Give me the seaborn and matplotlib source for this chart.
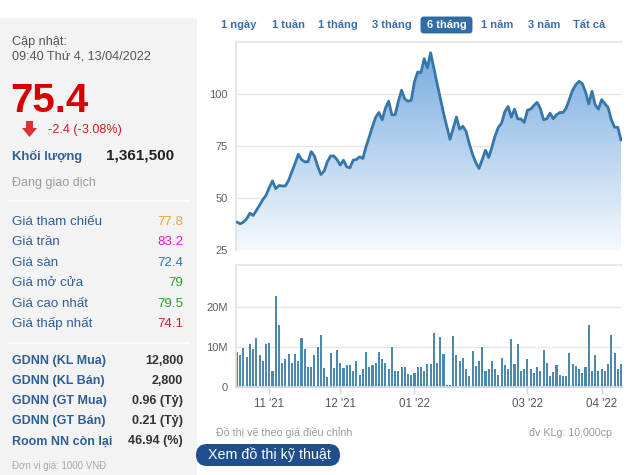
import numpy as np
import pandas as pd
import matplotlib
matplotlib.use('Agg')
import matplotlib.pyplot as plt
import seaborn as sns
from matplotlib.patches import Rectangle, FancyBboxPatch, Polygon
from matplotlib.colors import LinearSegmentedColormap
from matplotlib.transforms import IdentityTransform

# ---------------- data ----------------
price = [38.4, 37.6, 38.4, 40.0, 42.7, 41.6, 44.0, 46.5, 49.2, 51.3,
         55.0, 58.2, 54.5, 56.0, 55.8, 55.8, 58.5, 62.6, 66.6, 71.0,
         68.5, 67.4, 67.4, 72.3, 70.2, 65.3, 61.3, 62.9, 67.4, 70.2,
         70.2, 68.5, 65.8, 68.2, 65.0, 64.5, 68.2, 68.5, 69.8, 69.0,
         74.7, 79.5, 84.4, 88.9, 91.1, 87.6, 93.2, 96.5, 90.0, 90.0,
         96.5, 101.8, 97.6, 96.5, 97.0, 106.0, 110.6, 110.2, 117.0, 112.6,
         119.8, 112.5, 105.0, 98.0, 90.8, 84.5, 78.2, 83.5, 88.9, 83.1,
         84.5, 82.0, 76.0, 71.0, 67.0, 64.2, 68.5, 73.0, 69.5, 74.5,
         80.0, 84.0, 86.0, 91.5, 94.0, 88.9, 92.7, 88.0, 88.0, 86.3,
         92.2, 92.7, 94.5, 96.0, 93.0, 87.6, 88.1, 90.8, 88.1, 90.0,
         91.1, 91.1, 93.2, 97.5, 101.8, 104.5, 106.1, 105.0, 101.0, 95.2,
         101.3, 94.8, 92.7, 97.3, 95.3, 93.5, 87.6, 84.0, 84.0, 77.8]

volume_m = [8.8, 8.1, 9.8, 7.6, 10.7, 9.5, 12.2, 7.9, 6.6, 10.7,
            11.0, 4.0, 22.7, 15.5, 6.0, 7.0, 8.3, 6.0, 8.3, 6.4,
            12.2, 9.5, 5.0, 5.0, 8.1, 10.1, 13.1, 4.7, 2.5, 8.5,
            4.7, 9.3, 6.0, 4.7, 5.4, 5.5, 3.9, 6.4, 3.1, 4.4,
            8.7, 5.0, 5.4, 6.0, 8.7, 7.0, 6.0, 4.5, 9.9, 3.9,
            3.9, 4.9, 4.9, 3.2, 3.1, 3.4, 4.9, 4.9, 4.1, 5.8,
            5.7, 13.6, 6.0, 12.6, 8.3, 0.6, 0.6, 12.8, 8.1, 6.4,
            7.3, 4.4, 2.8, 9.1, 5.2, 6.6, 9.9, 3.9, 4.6, 6.4,
            4.6, 3.1, 7.3, 5.4, 4.6, 11.9, 5.8, 10.7, 3.9, 4.4,
            7.0, 4.4, 3.4, 5.0, 4.1, 9.3, 6.0, 2.8, 3.7, 5.4,
            2.9, 2.8, 2.8, 8.5, 5.8, 5.2, 4.4, 3.5, 4.9, 15.5,
            4.1, 8.1, 3.9, 4.6, 4.1, 5.8, 13.0, 8.5, 4.6, 5.8]

month_tick_idx = [10, 32, 55, 90, 113]
month_tick_labels = ["11 '21", "12 '21", "01 '22", "03 '22", "04 '22"]
price_ticks = [25, 50, 75, 100]
vol_ticks = [0, 10, 20]
vol_tick_labels = ['0', '10M', '20M']

range_buttons = ['1 ngày', '1 tuần', '1 tháng', '3 tháng', '6 tháng', '1 năm', '3 năm', 'Tất cả']
selected_range = '6 tháng'

update_title = 'Cập nhật:'
update_time = '09:40 Thứ 4, 13/04/2022'
last_price = '75.4'
change_text = '-2.4 (-3.08%)'
volume_label = 'Khối lượng'
volume_value = '1,361,500'
status_text = 'Đang giao dịch'

info_labels = ['Giá tham chiếu', 'Giá trần', 'Giá sàn', 'Giá mở cửa', 'Giá cao nhất', 'Giá thấp nhất']
info_values = ['77.8', '83.2', '72.4', '79', '79.5', '74.1']
info_colors = ['#f2a33a', '#e21bd6', '#2a78b0', '#2aa02a', '#2aa02a', '#c8262c']

foreign_labels = ['GDNN (KL Mua)', 'GDNN (KL Bán)', 'GDNN (GT Mua)', 'GDNN (GT Bán)', 'Room NN còn lại']
foreign_values = ['12,800', '2,800', '0.96 (Tỷ)', '0.21 (Tỷ)', '46.94 (%)']

unit_note = 'Đơn vị giá: 1000 VNĐ'
adjusted_note = 'Đồ thị vẽ theo giá điều chỉnh'
vol_unit_note = 'đv KLg: 10,000cp'
tech_button = 'Xem đồ thị kỹ thuật'

# ---------------- style ----------------
sns.set_theme(style='white')
plt.rcParams['font.family'] = ['Liberation Sans', 'DejaVu Sans']

W, H = 630, 475


def fx(x):
    return x / W


def fy(y):
    return 1 - y / H


fig = plt.figure(figsize=(6.3, 4.75), dpi=100)
fig.patch.set_facecolor('white')

# left info panel background
fig.add_artist(Rectangle((0, 0), fx(197), fy(18), transform=fig.transFigure,
                         facecolor='#f3f3f3', edgecolor='none', zorder=0))
for ysep in (201, 343):
    fig.add_artist(plt.Line2D([fx(8), fx(190)], [fy(ysep), fy(ysep)], transform=fig.transFigure,
                              color='white', linewidth=1.2, zorder=1))

blue_lbl = '#2f5f95'
fig.text(fx(12), fy(45), update_title, fontsize=9.1, color='#555555', va='baseline')
fig.text(fx(12), fy(59.5), update_time, fontsize=9.1, color='#555555', va='baseline')
fig.text(fx(10), fy(112), last_price, fontsize=29, color='#d40000', fontweight='bold', va='baseline')

# red down arrow
arrow_px = [(26, 121), (33, 121), (33, 128), (37, 128), (29.5, 137), (22, 128), (26, 128)]
fig.add_artist(Polygon([(fx(a), fy(b)) for a, b in arrow_px], closed=True, transform=fig.transFigure,
                       facecolor='#dc3232', edgecolor='none'))
fig.text(fx(48), fy(133), change_text, fontsize=9.1, color='#cc1f1f', va='baseline')

fig.text(fx(12), fy(160), volume_label, fontsize=9.4, color=blue_lbl, fontweight='bold', va='baseline')
fig.text(fx(174), fy(159), volume_value, fontsize=11, color='#222222', fontweight='bold',
         va='baseline', ha='right')
fig.text(fx(12), fy(186), status_text, fontsize=9.0, color='#9a9a9a', va='baseline')

for i, (lab, val, col) in enumerate(zip(info_labels, info_values, info_colors)):
    yb = 225 + i * 20.4
    fig.text(fx(12.5), fy(yb), lab, fontsize=9.6, color=blue_lbl, va='baseline')
    fig.text(fx(183), fy(yb), val, fontsize=9.6, color=col, va='baseline', ha='right')

for i, (lab, val) in enumerate(zip(foreign_labels, foreign_values)):
    yb = 364 + i * 20.1
    fig.text(fx(12.5), fy(yb), lab, fontsize=9.0, color=blue_lbl, fontweight='bold', va='baseline')
    fig.text(fx(183), fy(yb), val, fontsize=9.0, color='#333333', fontweight='bold',
             va='baseline', ha='right')

fig.text(fx(12), fy(469), unit_note, fontsize=7, color='#a8a8a8', va='baseline')

# range buttons
button_cx = [239, 288, 338, 392, 447, 497, 544, 589]
for lab, cx in zip(range_buttons, button_cx):
    if lab == selected_range:
        fig.add_artist(FancyBboxPatch((421, H - 33), 51, 16, boxstyle='round,pad=0,rounding_size=2.5',
                                      transform=IdentityTransform(), facecolor='#2f6ea8',
                                      edgecolor='#2a6399', linewidth=0.6))
        fig.text(fx(cx), fy(25), lab, fontsize=8.0, color='white', fontweight='bold',
                 ha='center', va='center')
    else:
        fig.text(fx(cx), fy(25), lab, fontsize=8.0, color='#3b6ea6', fontweight='bold',
                 ha='center', va='center')

# ---------------- charts ----------------
n = len(price)
df = pd.DataFrame({'idx': np.arange(n), 'price': price, 'vol': volume_m})
xlim = (-0.3, n - 1 + 0.3)

ax_p = fig.add_axes([fx(236), fy(250), fx(622) - fx(236), (250 - 42) / H])
ax_v = fig.add_axes([fx(236), fy(387), fx(622) - fx(236), (387 - 265) / H])

# gradient area under price
fill = ax_p.fill_between(df['idx'], df['price'], 25, facecolor='none', edgecolor='none')
clip_path = fill.get_paths()[0]
grad = np.linspace(0, 1, 256).reshape(-1, 1)
cmap = LinearSegmentedColormap.from_list('area', ['#f6fafe', '#72a8de'])
im = ax_p.imshow(grad, extent=[0, n - 1, 25, 125], origin='lower', aspect='auto', cmap=cmap, zorder=1)
im.set_clip_path(clip_path, transform=ax_p.transData)
sns.lineplot(data=df, x='idx', y='price', ax=ax_p, color='#3676a9', linewidth=2.0, zorder=3)

ax_p.set_xlim(*xlim)
ax_p.set_ylim(25, 125)
ax_p.set_yticks(price_ticks)
ax_p.set_xticks([])

sns.barplot(data=df, x='idx', y='vol', ax=ax_v, color='#4d88ae', saturation=1, width=0.64,
            errorbar=None, linewidth=0)
ax_v.set_xlim(*xlim)
ax_v.set_ylim(0, 30.5)
ax_v.set_yticks(vol_ticks, vol_tick_labels)
ax_v.set_xticks(month_tick_idx, month_tick_labels)

for ax in (ax_p, ax_v):
    ax.set_xlabel('')
    ax.set_ylabel('')
    ax.grid(axis='y', color='#e6e6e6', linewidth=1)
    ax.grid(axis='x', visible=False)
    ax.set_axisbelow(True)
    ax.spines['right'].set_visible(False)
    ax.spines['left'].set_color('#e2e2e2')
    ax.spines['top'].set_color('#e6e6e6')
    ax.tick_params(axis='y', length=0, pad=6, labelsize=8, labelcolor='#606060')

ax_p.spines['bottom'].set_visible(False)
ax_v.spines['bottom'].set_color('#ccd6eb')
ax_v.tick_params(axis='x', length=5, width=1, color='#ccd6eb', labelsize=8.3,
                 labelcolor='#555555', pad=3, bottom=True)

# notes and button
fig.text(fx(216), fy(436), adjusted_note, fontsize=7.7, color='#9a9a9a', va='baseline')
fig.text(fx(612), fy(436), vol_unit_note, fontsize=7.7, color='#9a9a9a', va='baseline', ha='right')
fig.add_artist(FancyBboxPatch((196, H - 466), 144, 22, boxstyle='round,pad=0,rounding_size=11',
                              transform=IdentityTransform(), facecolor='#1f4f8f', edgecolor='none'))
fig.text(fx(269), fy(455), tech_button, fontsize=10.3, color='white', ha='center', va='center')

fig.savefig('out.png', dpi=100)
